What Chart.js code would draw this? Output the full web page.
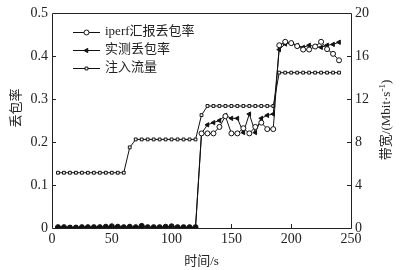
<!DOCTYPE html>
<html>
<head>
<meta charset="utf-8">
<script src="https://cdn.jsdelivr.net/npm/chart.js"></script>
<style>
  html, body { margin: 0; padding: 0; background: #fff; }
  #wrap { width: 401px; height: 270px; }
</style>
</head>
<body>
<div id="wrap"><canvas id="grafico"></canvas></div>
<script>
// tiempos (s)
const tiempos = [5, 10, 15, 20, 25, 30, 35, 40, 45, 50, 55, 60,
                 65, 70, 75, 80, 85, 90, 95, 100, 105, 110, 115, 120,
                 125, 130, 135, 140, 145, 150, 155, 160, 165, 170, 175, 180,
                 185, 190, 195, 200, 205, 210, 215, 220, 225, 230, 235, 240];

// iperf汇报丢包率
const perdidaIperf = [0.002, 0.002, 0.001, 0.001, 0.002, 0.002, 0.002, 0.002, 0.003, 0.004, 0.003, 0.002,
                      0.003, 0.002, 0.005, 0.002, 0.002, 0.002, 0.003, 0.004, 0.002, 0.002, 0.002, 0.002,
                      0.22, 0.22, 0.22, 0.235, 0.26, 0.22, 0.22, 0.232, 0.22, 0.235, 0.245, 0.23,
                      0.23, 0.425, 0.433, 0.43, 0.423, 0.415, 0.415, 0.422, 0.433, 0.416, 0.405, 0.39];

// 实测丢包率
const perdidaMedida = [0.001, 0.001, 0.001, 0.001, 0.001, 0.001, 0.001, 0.002, 0.001, 0.001, 0.002, 0.001,
                       0.001, 0.001, 0.002, 0.001, 0.001, 0.001, 0.001, 0.002, 0.001, 0.001, 0.001, 0.001,
                       0.22, 0.24, 0.245, 0.25, 0.262, 0.255, 0.255, 0.222, 0.265, 0.222, 0.255, 0.262,
                       0.265, 0.415, 0.428, 0.43, 0.425, 0.42, 0.425, 0.422, 0.42, 0.425, 0.427, 0.432];

// 注入流量 (Mbit/s)
const flujoInyectado = [5.14, 5.14, 5.14, 5.14, 5.14, 5.14, 5.14, 5.14, 5.14, 5.14, 5.14, 5.14,
                        7.5, 8.24, 8.24, 8.24, 8.24, 8.24, 8.24, 8.24, 8.24, 8.24, 8.24, 8.24,
                        10.5, 11.35, 11.35, 11.35, 11.35, 11.35, 11.35, 11.35, 11.35, 11.35, 11.35, 11.35,
                        11.35, 14.45, 14.45, 14.45, 14.45, 14.45, 14.45, 14.45, 14.45, 14.45, 14.45, 14.45];

const etiquetasSerie = ["iperf汇报丢包率", "实测丢包率", "注入流量"];
const ticksX = [0, 50, 100, 150, 200, 250];

const FUENTE = '"Liberation Serif", "Noto Sans CJK SC", serif';

function puntos(valores) {
    return tiempos.map((t, i) => ({ x: t, y: valores[i] }));
}

// marcos, ticks internos, títulos y leyenda
const decoracion = {
    id: "decoracion",
    afterDraw(chart) {
        const ctx = chart.ctx;
        const a = chart.chartArea;
        const sx = chart.scales.x, sy = chart.scales.y, sy2 = chart.scales.y2;
        ctx.save();
        ctx.strokeStyle = "#222";
        ctx.lineWidth = 1;
        ctx.beginPath();
        ctx.rect(Math.round(a.left) + 0.5, Math.round(a.top) + 0.5,
                 Math.round(a.right - a.left), Math.round(a.bottom - a.top));
        ctx.stroke();

        ctx.beginPath();
        [0.1, 0.2, 0.3, 0.4].forEach(v => {
            const y = Math.round(sy.getPixelForValue(v)) + 0.5;
            ctx.moveTo(a.left, y); ctx.lineTo(a.left + 4, y);
        });
        [4, 8, 12, 16].forEach(v => {
            const y = Math.round(sy2.getPixelForValue(v)) + 0.5;
            ctx.moveTo(a.right, y); ctx.lineTo(a.right - 4, y);
        });
        [50, 100, 150, 200].forEach(v => {
            const x = Math.round(sx.getPixelForValue(v)) + 0.5;
            ctx.moveTo(x, a.bottom); ctx.lineTo(x, a.bottom - 4);
        });
        ctx.stroke();

        // títulos
        ctx.fillStyle = "#222";
        ctx.textAlign = "center";
        ctx.textBaseline = "middle";
        ctx.font = "13px " + FUENTE;
        ctx.fillText("时间/s", (a.left + a.right) / 2, 262);

        ctx.save();
        ctx.translate(17, 108);
        ctx.rotate(-Math.PI / 2);
        ctx.fillText("丢包率", 0, 0);
        ctx.restore();

        ctx.save();
        ctx.translate(387, 120);
        ctx.rotate(-Math.PI / 2);
        const p1 = "带宽/(Mbit·s", sup = "-1", p3 = ")";
        ctx.font = "13px " + FUENTE;
        const w1 = ctx.measureText(p1).width, w3 = ctx.measureText(p3).width;
        ctx.font = "9px " + FUENTE;
        const w2 = ctx.measureText(sup).width;
        let x0 = -(w1 + w2 + w3) / 2;
        ctx.textAlign = "left";
        ctx.font = "13px " + FUENTE;
        ctx.fillText(p1, x0, 0);
        ctx.font = "9px " + FUENTE;
        ctx.fillText(sup, x0 + w1, -4);
        ctx.font = "13px " + FUENTE;
        ctx.fillText(p3, x0 + w1 + w2, 0);
        ctx.restore();

        // leyenda
        const filas = [32, 50, 68];
        const rellenos = ["#fff", "#111", "#fff"];
        chart.data.datasets.forEach((ds, i) => {
            const y = filas[i] + 0.5;
            ctx.strokeStyle = "#111";
            ctx.lineWidth = 1;
            ctx.beginPath();
            ctx.moveTo(73, y); ctx.lineTo(100, y);
            ctx.stroke();
            ctx.fillStyle = rellenos[i];
            Chart.helpers.drawPoint(ctx, {
                pointStyle: ds.pointStyle, rotation: ds.pointRotation || 0,
                radius: ds.pointRadius, borderWidth: 1
            }, 86.5, y);
            ctx.fillStyle = "#222";
            ctx.textAlign = "left";
            ctx.font = "13px " + FUENTE;
            ctx.fillText(etiquetasSerie[i], 105, filas[i]);
        });
        ctx.restore();
    }
};

const canvas = document.getElementById("grafico");
const grafico = new Chart(canvas.getContext("2d"), {
    type: "line",
    data: {
        datasets: [{
            label: etiquetasSerie[0],
            data: puntos(perdidaIperf),
            yAxisID: "y",
            borderColor: "#111",
            // los puntos cerca de cero se ven rellenos en la figura
            pointBackgroundColor: c => (c.raw && c.raw.y < 0.05) ? "#111" : "#fff",
            borderWidth: 1,
            pointStyle: "circle",
            pointRadius: 2.5,
            pointBorderWidth: 1,
            order: 1
        }, {
            label: etiquetasSerie[1],
            data: puntos(perdidaMedida),
            yAxisID: "y",
            borderColor: "#111",
            backgroundColor: "#111",
            borderWidth: 1,
            pointStyle: "triangle",
            pointRotation: -90,
            pointRadius: 2.5,
            pointBorderWidth: 1,
            order: 2
        }, {
            label: etiquetasSerie[2],
            data: puntos(flujoInyectado),
            yAxisID: "y2",
            borderColor: "#111",
            backgroundColor: "#fff",
            borderWidth: 1,
            pointStyle: "rect",
            pointRadius: 2,
            pointBorderWidth: 1,
            order: 3
        }]
    },
    options: {
        responsive: true,
        maintainAspectRatio: false,
        animation: false,
        layout: { padding: { top: 13, left: 0, right: 0, bottom: 0 } },
        plugins: {
            legend: { display: false },
            tooltip: { enabled: false }
        },
        scales: {
            x: {
                type: "linear",
                min: 0, max: 250,
                afterFit: s => { s.height = 42; },
                afterBuildTicks: s => { s.ticks = ticksX.map(v => ({ value: v })); },
                grid: { display: false, drawTicks: false },
                border: { display: false },
                ticks: { color: "#222", padding: 3, maxRotation: 0, font: { family: FUENTE, size: 14 } }
            },
            y: {
                position: "left",
                min: 0, max: 0.5,
                afterFit: s => { s.width = 52; },
                grid: { display: false, drawTicks: false },
                border: { display: false },
                ticks: {
                    stepSize: 0.1, color: "#222", padding: 4,
                    font: { family: FUENTE, size: 14 },
                    callback: v => v === 0 ? "0" : v.toFixed(1)
                }
            },
            y2: {
                position: "right",
                min: 0, max: 20,
                afterFit: s => { s.width = 50; },
                grid: { display: false, drawTicks: false },
                border: { display: false },
                ticks: { stepSize: 4, color: "#222", padding: 4, font: { family: FUENTE, size: 14 } }
            }
        }
    },
    plugins: [decoracion]
});
</script>
</body>
</html>
